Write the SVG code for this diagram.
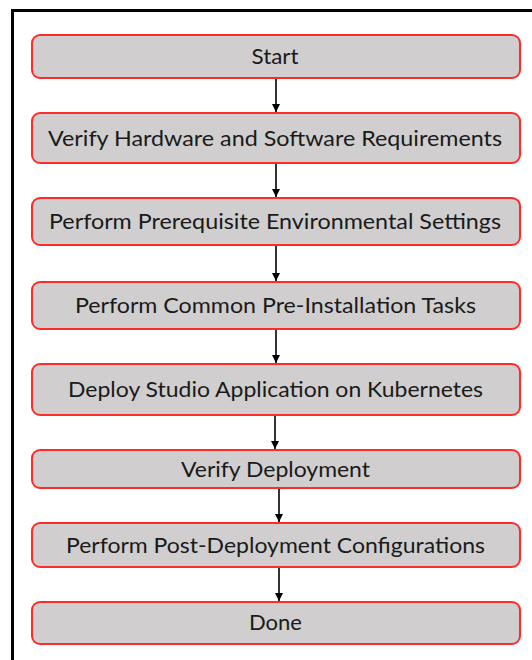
<svg xmlns="http://www.w3.org/2000/svg" width="532" height="660" viewBox="0 0 532 660">
<defs>
<style>
.box{fill:#d0cece;stroke:#ff2b2b;stroke-width:2}
.lbl{font-family:Lato,"Open Sans",sans-serif;font-size:21px;fill:#1a1a1a;text-anchor:middle}
.con{stroke:#000;stroke-width:1.6;fill:none;marker-end:url(#ah)}
</style>
<marker id="ah" viewBox="0 0 10 10" refX="10" refY="5" markerWidth="8" markerHeight="8" markerUnits="userSpaceOnUse" orient="auto">
<path d="M0,0 L10,5 L0,10 Z" fill="#000"/>
</marker>
</defs>
<rect width="532" height="660" fill="#fff"/>
<path d="M12.5,660 V10.5 H532" fill="none" stroke="#000" stroke-width="3"/>
<g id="n1"><rect class="box" x="32" y="35" width="488" height="43" rx="8"/><text class="lbl" x="275" y="64" textLength="47" lengthAdjust="spacingAndGlyphs">Start</text></g>
<g id="n2"><rect class="box" x="32" y="113" width="488" height="50" rx="8"/><text class="lbl" x="275" y="145.5" textLength="454" lengthAdjust="spacingAndGlyphs">Verify Hardware and Software Requirements</text></g>
<g id="n3"><rect class="box" x="32" y="198" width="488" height="47" rx="8"/><text class="lbl" x="275" y="229" textLength="452" lengthAdjust="spacingAndGlyphs">Perform Prerequisite Environmental Settings</text></g>
<g id="n4"><rect class="box" x="32" y="282" width="488" height="47" rx="8"/><text class="lbl" x="275.5" y="313" textLength="401" lengthAdjust="spacingAndGlyphs">Perform Common Pre-Installation Tasks</text></g>
<g id="n5"><rect class="box" x="32" y="364" width="488" height="51" rx="8"/><text class="lbl" x="275.5" y="397" textLength="415" lengthAdjust="spacingAndGlyphs">Deploy Studio Application on Kubernetes</text></g>
<g id="n6"><rect class="box" x="32" y="450" width="488" height="38" rx="8"/><text class="lbl" x="275.5" y="476.5" textLength="189" lengthAdjust="spacingAndGlyphs">Verify Deployment</text></g>
<g id="n7"><rect class="box" x="32" y="523" width="488" height="44" rx="8"/><text class="lbl" x="275.5" y="553" textLength="419" lengthAdjust="spacingAndGlyphs">Perform Post-Deployment Configurations</text></g>
<g id="n8"><rect class="box" x="32" y="602" width="488" height="42" rx="8"/><text class="lbl" x="275.5" y="630" textLength="53" lengthAdjust="spacingAndGlyphs">Done</text></g>
<g id="connectors">
<line class="con" x1="276" y1="79" x2="276" y2="112"/>
<line class="con" x1="276" y1="164" x2="276" y2="197"/>
<line class="con" x1="276" y1="246" x2="276" y2="281"/>
<line class="con" x1="276" y1="330" x2="276" y2="363"/>
<line class="con" x1="275" y1="416" x2="275" y2="449"/>
<line class="con" x1="279" y1="489" x2="279" y2="522"/>
<line class="con" x1="279" y1="568" x2="279" y2="601"/>
</g>
</svg>
